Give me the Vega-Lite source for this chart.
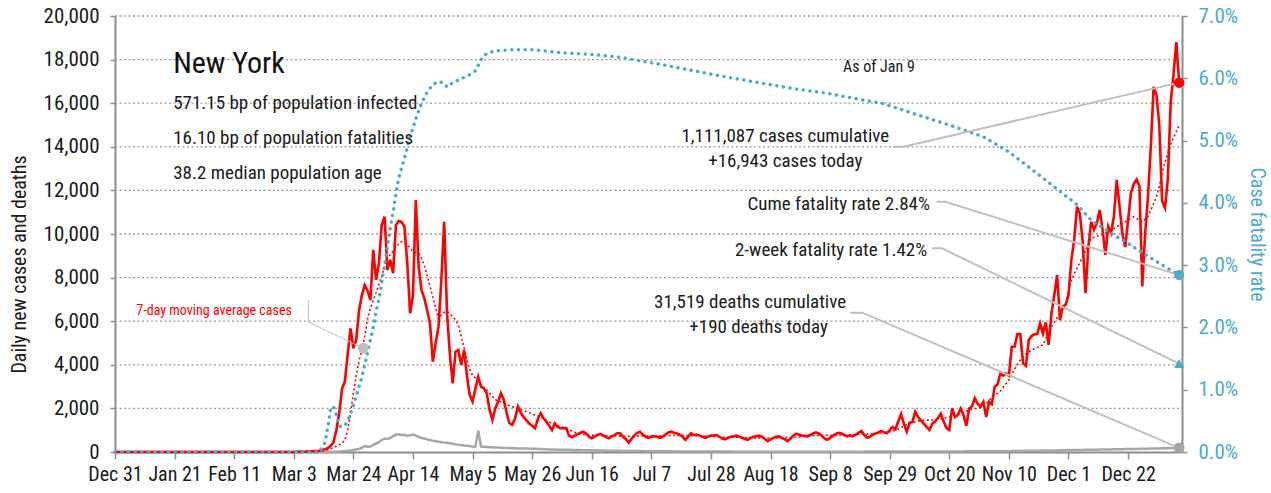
{
"$schema": "https://vega.github.io/schema/vega-lite/v6.json",
"width": 1067, "height": 436,
"autosize": {"type": "none"},
"padding": {"left": 115, "top": 16, "right": 89, "bottom": 41},
"background": "white",
"config": {"font": "Liberation Sans Narrow, Arial Narrow, Roboto Condensed, DejaVu Sans Condensed, Liberation Sans, sans-serif", "view": {"stroke": null},
 "axisBottom": {"labelExpr": "utcFormat(datum.value, '%b %-d')", "grid": false, "labelFontSize": 20, "labelColor": "#1a1a1a", "labelPadding": 5, "labelFlush": false, "labelOverlap": false, "domainColor": "#8c8c8c", "domainWidth": 2, "tickColor": "#8c8c8c", "tickSize": 7, "tickWidth": 1.5},
 "axisLeft": {"labelExpr": "format(datum.value, ',')", "domainColor": "#8c8c8c", "domainWidth": 2, "tickColor": "#8c8c8c", "tickSize": 5, "tickWidth": 1.5, "labelFontSize": 21, "labelColor": "#1a1a1a", "labelPadding": 11, "titleFontSize": 20, "titleFontWeight": "normal", "titleColor": "#1a1a1a", "titlePadding": 14, "titleY": 248},
 "axisRight": {"labelExpr": "format(datum.value, '.1f') + '%'", "grid": false, "domainColor": "#8c8c8c", "domainWidth": 2, "tickColor": "#8c8c8c", "tickSize": 5, "tickWidth": 1.5, "labelFontSize": 21, "labelColor": "#4bacc6", "labelPadding": 11, "titleFontSize": 20, "titleFontWeight": "normal", "titleColor": "#4bacc6", "titlePadding": 9}},
"datasets": {
"gridrows": [
{"level":2000,"date":"2019-12-31"},{"level":2000,"date":"2021-01-10"},{"level":4000,"date":"2019-12-31"},{"level":4000,"date":"2021-01-10"},{"level":6000,"date":"2019-12-31"},{"level":6000,"date":"2021-01-10"},{"level":8000,"date":"2019-12-31"},{"level":8000,"date":"2021-01-10"},{"level":10000,"date":"2019-12-31"},{"level":10000,"date":"2021-01-10"},
{"level":12000,"date":"2019-12-31"},{"level":12000,"date":"2021-01-10"},{"level":14000,"date":"2019-12-31"},{"level":14000,"date":"2021-01-10"},{"level":16000,"date":"2019-12-31"},{"level":16000,"date":"2021-01-10"},{"level":18000,"date":"2019-12-31"},{"level":18000,"date":"2021-01-10"},{"level":20000,"date":"2019-12-31"},{"level":20000,"date":"2021-01-10"}
],
"daily": [
{"date":"2019-12-31","cases":0,"deaths":0},{"date":"2020-01-07","cases":0,"deaths":0},{"date":"2020-01-14","cases":0,"deaths":0},{"date":"2020-01-21","cases":0,"deaths":0},{"date":"2020-01-28","cases":0,"deaths":0},{"date":"2020-02-04","cases":0,"deaths":0},{"date":"2020-02-11","cases":0,"deaths":0},{"date":"2020-02-18","cases":0,"deaths":0},{"date":"2020-02-25","cases":0,"deaths":0},{"date":"2020-02-29","cases":0,"deaths":0},
{"date":"2020-03-01","cases":1,"deaths":0},{"date":"2020-03-02","cases":0,"deaths":0},{"date":"2020-03-03","cases":1,"deaths":0},{"date":"2020-03-04","cases":9,"deaths":0},{"date":"2020-03-05","cases":11,"deaths":0},{"date":"2020-03-06","cases":22,"deaths":0},{"date":"2020-03-07","cases":13,"deaths":0},{"date":"2020-03-08","cases":32,"deaths":0},{"date":"2020-03-09","cases":37,"deaths":0},{"date":"2020-03-10","cases":40,"deaths":0},
{"date":"2020-03-11","cases":40,"deaths":0},{"date":"2020-03-12","cases":60,"deaths":0},{"date":"2020-03-13","cases":100,"deaths":1},{"date":"2020-03-14","cases":130,"deaths":2},{"date":"2020-03-15","cases":180,"deaths":3},{"date":"2020-03-16","cases":280,"deaths":5},{"date":"2020-03-17","cases":450,"deaths":10},{"date":"2020-03-18","cases":1000,"deaths":15},{"date":"2020-03-19","cases":1775,"deaths":20},{"date":"2020-03-20","cases":2900,"deaths":30},
{"date":"2020-03-21","cases":3230,"deaths":40},{"date":"2020-03-22","cases":4500,"deaths":55},{"date":"2020-03-23","cases":5670,"deaths":60},{"date":"2020-03-24","cases":4760,"deaths":95},{"date":"2020-03-25","cases":5140,"deaths":120},{"date":"2020-03-26","cases":6500,"deaths":140},{"date":"2020-03-27","cases":7200,"deaths":200},{"date":"2020-03-28","cases":7660,"deaths":275},{"date":"2020-03-29","cases":7400,"deaths":240},{"date":"2020-03-30","cases":6970,"deaths":250},{"date":"2020-03-31","cases":9270,"deaths":330},
{"date":"2020-04-01","cases":7890,"deaths":390},{"date":"2020-04-02","cases":8660,"deaths":450},{"date":"2020-04-03","cases":10410,"deaths":550},{"date":"2020-04-04","cases":10790,"deaths":620},{"date":"2020-04-05","cases":8350,"deaths":600},{"date":"2020-04-06","cases":8810,"deaths":650},{"date":"2020-04-07","cases":8200,"deaths":730},{"date":"2020-04-08","cases":10410,"deaths":800},{"date":"2020-04-09","cases":10600,"deaths":810},{"date":"2020-04-10","cases":10550,"deaths":780},
{"date":"2020-04-11","cases":10340,"deaths":790},{"date":"2020-04-12","cases":8660,"deaths":750},{"date":"2020-04-13","cases":6360,"deaths":770},{"date":"2020-04-14","cases":7200,"deaths":800},{"date":"2020-04-15","cases":11560,"deaths":750},{"date":"2020-04-16","cases":8500,"deaths":700},{"date":"2020-04-17","cases":7430,"deaths":640},{"date":"2020-04-18","cases":7050,"deaths":620},{"date":"2020-04-19","cases":6500,"deaths":580},{"date":"2020-04-20","cases":5900,"deaths":550},
{"date":"2020-04-21","cases":4140,"deaths":520},{"date":"2020-04-22","cases":5000,"deaths":500},{"date":"2020-04-23","cases":5750,"deaths":470},{"date":"2020-04-24","cases":7890,"deaths":450},{"date":"2020-04-25","cases":10560,"deaths":430},{"date":"2020-04-26","cases":6360,"deaths":420},{"date":"2020-04-27","cases":4500,"deaths":400},{"date":"2020-04-28","cases":3150,"deaths":380},{"date":"2020-04-29","cases":4600,"deaths":350},{"date":"2020-04-30","cases":4680,"deaths":330},
{"date":"2020-05-01","cases":3990,"deaths":320},{"date":"2020-05-02","cases":4680,"deaths":300},{"date":"2020-05-03","cases":3500,"deaths":290},{"date":"2020-05-04","cases":2610,"deaths":270},{"date":"2020-05-05","cases":2310,"deaths":250},{"date":"2020-05-06","cases":2900,"deaths":240},{"date":"2020-05-07","cases":3450,"deaths":980},{"date":"2020-05-08","cases":3000,"deaths":250},{"date":"2020-05-09","cases":2920,"deaths":240},{"date":"2020-05-10","cases":2690,"deaths":230},
{"date":"2020-05-11","cases":1930,"deaths":220},{"date":"2020-05-12","cases":1470,"deaths":215},{"date":"2020-05-13","cases":2000,"deaths":210},{"date":"2020-05-14","cases":2310,"deaths":205},{"date":"2020-05-15","cases":2690,"deaths":200},{"date":"2020-05-16","cases":2400,"deaths":190},{"date":"2020-05-17","cases":1800,"deaths":185},{"date":"2020-05-18","cases":1320,"deaths":180},{"date":"2020-05-19","cases":1240,"deaths":175},{"date":"2020-05-20","cases":1545,"deaths":170},
{"date":"2020-05-21","cases":2080,"deaths":165},{"date":"2020-05-22","cases":1800,"deaths":160},{"date":"2020-05-23","cases":1600,"deaths":160},{"date":"2020-05-24","cases":1450,"deaths":155},{"date":"2020-05-25","cases":1300,"deaths":150},{"date":"2020-05-26","cases":1200,"deaths":150},{"date":"2020-05-27","cases":1090,"deaths":145},{"date":"2020-05-28","cases":1500,"deaths":140},{"date":"2020-05-29","cases":1775,"deaths":135},{"date":"2020-05-30","cases":1550,"deaths":130},{"date":"2020-05-31","cases":1390,"deaths":125},
{"date":"2020-06-01","cases":1200,"deaths":120},{"date":"2020-06-02","cases":1010,"deaths":115},{"date":"2020-06-03","cases":1320,"deaths":110},{"date":"2020-06-04","cases":1150,"deaths":108},{"date":"2020-06-05","cases":1090,"deaths":105},{"date":"2020-06-06","cases":1090,"deaths":102},{"date":"2020-06-07","cases":1100,"deaths":100},{"date":"2020-06-08","cases":750,"deaths":98},{"date":"2020-06-09","cases":680,"deaths":95},{"date":"2020-06-10","cases":750,"deaths":93},
{"date":"2020-06-11","cases":820,"deaths":90},{"date":"2020-06-12","cases":880,"deaths":88},{"date":"2020-06-13","cases":930,"deaths":86},{"date":"2020-06-14","cases":850,"deaths":85},{"date":"2020-06-15","cases":700,"deaths":84},{"date":"2020-06-16","cases":630,"deaths":82},{"date":"2020-06-17","cases":700,"deaths":80},{"date":"2020-06-18","cases":780,"deaths":75},{"date":"2020-06-19","cases":830,"deaths":70},{"date":"2020-06-20","cases":760,"deaths":66},
{"date":"2020-06-21","cases":680,"deaths":62},{"date":"2020-06-22","cases":630,"deaths":60},{"date":"2020-06-23","cases":700,"deaths":58},{"date":"2020-06-24","cases":780,"deaths":56},{"date":"2020-06-25","cases":860,"deaths":54},{"date":"2020-06-26","cases":860,"deaths":52},{"date":"2020-06-27","cases":700,"deaths":50},{"date":"2020-06-28","cases":600,"deaths":48},{"date":"2020-06-29","cases":430,"deaths":47},{"date":"2020-06-30","cases":600,"deaths":46},
{"date":"2020-07-01","cases":750,"deaths":45},{"date":"2020-07-02","cases":880,"deaths":43},{"date":"2020-07-03","cases":930,"deaths":41},{"date":"2020-07-04","cases":800,"deaths":40},{"date":"2020-07-05","cases":700,"deaths":38},{"date":"2020-07-06","cases":650,"deaths":37},{"date":"2020-07-07","cases":700,"deaths":36},{"date":"2020-07-08","cases":720,"deaths":35},{"date":"2020-07-09","cases":700,"deaths":34},{"date":"2020-07-10","cases":650,"deaths":33},
{"date":"2020-07-11","cases":700,"deaths":32},{"date":"2020-07-12","cases":800,"deaths":31},{"date":"2020-07-13","cases":900,"deaths":30},{"date":"2020-07-14","cases":930,"deaths":29},{"date":"2020-07-15","cases":880,"deaths":28},{"date":"2020-07-16","cases":850,"deaths":27},{"date":"2020-07-17","cases":800,"deaths":26},{"date":"2020-07-18","cases":700,"deaths":25},{"date":"2020-07-19","cases":560,"deaths":25},{"date":"2020-07-20","cases":700,"deaths":24},
{"date":"2020-07-21","cases":860,"deaths":24},{"date":"2020-07-22","cases":780,"deaths":23},{"date":"2020-07-23","cases":800,"deaths":23},{"date":"2020-07-24","cases":750,"deaths":22},{"date":"2020-07-25","cases":700,"deaths":22},{"date":"2020-07-26","cases":650,"deaths":21},{"date":"2020-07-27","cases":700,"deaths":21},{"date":"2020-07-28","cases":750,"deaths":20},{"date":"2020-07-29","cases":760,"deaths":20},{"date":"2020-07-30","cases":780,"deaths":20},{"date":"2020-07-31","cases":700,"deaths":19},
{"date":"2020-08-01","cases":620,"deaths":19},{"date":"2020-08-02","cases":580,"deaths":18},{"date":"2020-08-03","cases":650,"deaths":18},{"date":"2020-08-04","cases":700,"deaths":18},{"date":"2020-08-05","cases":720,"deaths":17},{"date":"2020-08-06","cases":750,"deaths":17},{"date":"2020-08-07","cases":700,"deaths":17},{"date":"2020-08-08","cases":650,"deaths":16},{"date":"2020-08-09","cases":600,"deaths":16},{"date":"2020-08-10","cases":560,"deaths":16},
{"date":"2020-08-11","cases":650,"deaths":16},{"date":"2020-08-12","cases":700,"deaths":15},{"date":"2020-08-13","cases":720,"deaths":15},{"date":"2020-08-14","cases":750,"deaths":15},{"date":"2020-08-15","cases":700,"deaths":15},{"date":"2020-08-16","cases":600,"deaths":15},{"date":"2020-08-17","cases":500,"deaths":14},{"date":"2020-08-18","cases":580,"deaths":14},{"date":"2020-08-19","cases":650,"deaths":14},{"date":"2020-08-20","cases":700,"deaths":14},
{"date":"2020-08-21","cases":720,"deaths":14},{"date":"2020-08-22","cases":650,"deaths":14},{"date":"2020-08-23","cases":580,"deaths":14},{"date":"2020-08-24","cases":500,"deaths":14},{"date":"2020-08-25","cases":600,"deaths":14},{"date":"2020-08-26","cases":750,"deaths":14},{"date":"2020-08-27","cases":830,"deaths":14},{"date":"2020-08-28","cases":800,"deaths":14},{"date":"2020-08-29","cases":760,"deaths":14},{"date":"2020-08-30","cases":740,"deaths":14},{"date":"2020-08-31","cases":720,"deaths":14},
{"date":"2020-09-01","cases":780,"deaths":14},{"date":"2020-09-02","cases":850,"deaths":14},{"date":"2020-09-03","cases":900,"deaths":14},{"date":"2020-09-04","cases":850,"deaths":15},{"date":"2020-09-05","cases":750,"deaths":15},{"date":"2020-09-06","cases":620,"deaths":15},{"date":"2020-09-07","cases":560,"deaths":15},{"date":"2020-09-08","cases":650,"deaths":15},{"date":"2020-09-09","cases":750,"deaths":15},{"date":"2020-09-10","cases":830,"deaths":15},
{"date":"2020-09-11","cases":880,"deaths":16},{"date":"2020-09-12","cases":850,"deaths":16},{"date":"2020-09-13","cases":780,"deaths":16},{"date":"2020-09-14","cases":720,"deaths":16},{"date":"2020-09-15","cases":760,"deaths":16},{"date":"2020-09-16","cases":720,"deaths":17},{"date":"2020-09-17","cases":800,"deaths":17},{"date":"2020-09-18","cases":880,"deaths":17},{"date":"2020-09-19","cases":960,"deaths":17},{"date":"2020-09-20","cases":800,"deaths":18},
{"date":"2020-09-21","cases":650,"deaths":18},{"date":"2020-09-22","cases":700,"deaths":18},{"date":"2020-09-23","cases":780,"deaths":18},{"date":"2020-09-24","cases":850,"deaths":19},{"date":"2020-09-25","cases":900,"deaths":19},{"date":"2020-09-26","cases":970,"deaths":19},{"date":"2020-09-27","cases":900,"deaths":19},{"date":"2020-09-28","cases":860,"deaths":20},{"date":"2020-09-29","cases":1000,"deaths":20},{"date":"2020-09-30","cases":1150,"deaths":20},
{"date":"2020-10-01","cases":1050,"deaths":20},{"date":"2020-10-02","cases":1400,"deaths":21},{"date":"2020-10-03","cases":1740,"deaths":21},{"date":"2020-10-04","cases":1300,"deaths":21},{"date":"2020-10-05","cases":930,"deaths":22},{"date":"2020-10-06","cases":1340,"deaths":22},{"date":"2020-10-07","cases":1380,"deaths":22},{"date":"2020-10-08","cases":1850,"deaths":23},{"date":"2020-10-09","cases":1600,"deaths":23},{"date":"2020-10-10","cases":1450,"deaths":23},
{"date":"2020-10-11","cases":1300,"deaths":24},{"date":"2020-10-12","cases":1150,"deaths":24},{"date":"2020-10-13","cases":1010,"deaths":24},{"date":"2020-10-14","cases":1300,"deaths":25},{"date":"2020-10-15","cases":1400,"deaths":25},{"date":"2020-10-16","cases":1550,"deaths":25},{"date":"2020-10-17","cases":1760,"deaths":26},{"date":"2020-10-18","cases":1400,"deaths":26},{"date":"2020-10-19","cases":1100,"deaths":26},{"date":"2020-10-20","cases":1010,"deaths":27},
{"date":"2020-10-21","cases":2000,"deaths":27},{"date":"2020-10-22","cases":1600,"deaths":27},{"date":"2020-10-23","cases":1700,"deaths":28},{"date":"2020-10-24","cases":2000,"deaths":28},{"date":"2020-10-25","cases":1700,"deaths":28},{"date":"2020-10-26","cases":1200,"deaths":29},{"date":"2020-10-27","cases":2000,"deaths":29},{"date":"2020-10-28","cases":2100,"deaths":29},{"date":"2020-10-29","cases":2460,"deaths":30},{"date":"2020-10-30","cases":2200,"deaths":30},{"date":"2020-10-31","cases":2080,"deaths":30},
{"date":"2020-11-01","cases":2300,"deaths":31},{"date":"2020-11-02","cases":1600,"deaths":32},{"date":"2020-11-03","cases":2300,"deaths":33},{"date":"2020-11-04","cases":2200,"deaths":34},{"date":"2020-11-05","cases":3000,"deaths":35},{"date":"2020-11-06","cases":3100,"deaths":36},{"date":"2020-11-07","cases":3600,"deaths":37},{"date":"2020-11-08","cases":3500,"deaths":38},{"date":"2020-11-09","cases":3610,"deaths":39},{"date":"2020-11-10","cases":3500,"deaths":40},
{"date":"2020-11-11","cases":4830,"deaths":42},{"date":"2020-11-12","cases":4830,"deaths":44},{"date":"2020-11-13","cases":5410,"deaths":46},{"date":"2020-11-14","cases":5410,"deaths":48},{"date":"2020-11-15","cases":4070,"deaths":50},{"date":"2020-11-16","cases":3950,"deaths":52},{"date":"2020-11-17","cases":5140,"deaths":54},{"date":"2020-11-18","cases":5320,"deaths":56},{"date":"2020-11-19","cases":5400,"deaths":58},{"date":"2020-11-20","cases":5410,"deaths":60},
{"date":"2020-11-21","cases":5900,"deaths":62},{"date":"2020-11-22","cases":5440,"deaths":64},{"date":"2020-11-23","cases":5950,"deaths":66},{"date":"2020-11-24","cases":4910,"deaths":68},{"date":"2020-11-25","cases":6360,"deaths":70},{"date":"2020-11-26","cases":7200,"deaths":72},{"date":"2020-11-27","cases":8120,"deaths":74},{"date":"2020-11-28","cases":6050,"deaths":76},{"date":"2020-11-29","cases":6670,"deaths":78},{"date":"2020-11-30","cases":6760,"deaths":80},
{"date":"2020-12-01","cases":7200,"deaths":82},{"date":"2020-12-02","cases":8800,"deaths":85},{"date":"2020-12-03","cases":9720,"deaths":88},{"date":"2020-12-04","cases":11250,"deaths":90},{"date":"2020-12-05","cases":10940,"deaths":92},{"date":"2020-12-06","cases":9650,"deaths":95},{"date":"2020-12-07","cases":7280,"deaths":98},{"date":"2020-12-08","cases":9420,"deaths":100},{"date":"2020-12-09","cases":10560,"deaths":102},{"date":"2020-12-10","cases":10200,"deaths":105},
{"date":"2020-12-11","cases":10500,"deaths":108},{"date":"2020-12-12","cases":11100,"deaths":110},{"date":"2020-12-13","cases":10200,"deaths":112},{"date":"2020-12-14","cases":9040,"deaths":115},{"date":"2020-12-15","cases":10350,"deaths":118},{"date":"2020-12-16","cases":10050,"deaths":120},{"date":"2020-12-17","cases":10800,"deaths":122},{"date":"2020-12-18","cases":12480,"deaths":125},{"date":"2020-12-19","cases":11250,"deaths":128},{"date":"2020-12-20","cases":10000,"deaths":130},
{"date":"2020-12-21","cases":9400,"deaths":132},{"date":"2020-12-22","cases":10640,"deaths":135},{"date":"2020-12-23","cases":11870,"deaths":138},{"date":"2020-12-24","cases":12300,"deaths":140},{"date":"2020-12-25","cases":12500,"deaths":142},{"date":"2020-12-26","cases":12200,"deaths":145},{"date":"2020-12-27","cases":7600,"deaths":148},{"date":"2020-12-28","cases":10000,"deaths":150},{"date":"2020-12-29","cases":11700,"deaths":152},{"date":"2020-12-30","cases":14000,"deaths":155},{"date":"2020-12-31","cases":16750,"deaths":158},
{"date":"2021-01-01","cases":16400,"deaths":160},{"date":"2021-01-02","cases":15000,"deaths":165},{"date":"2021-01-03","cases":11500,"deaths":168},{"date":"2021-01-04","cases":11200,"deaths":172},{"date":"2021-01-05","cases":12500,"deaths":175},{"date":"2021-01-06","cases":16000,"deaths":178},{"date":"2021-01-07","cases":17300,"deaths":182},{"date":"2021-01-08","cases":18800,"deaths":186},{"date":"2021-01-09","cases":16943,"deaths":190}
],
"ma": [
{"date":"2019-12-31","ma":0},{"date":"2020-03-01","ma":0},{"date":"2020-03-10","ma":15},{"date":"2020-03-14","ma":60},{"date":"2020-03-17","ma":200},{"date":"2020-03-19","ma":330},{"date":"2020-03-20","ma":400},{"date":"2020-03-21","ma":550},{"date":"2020-03-22","ma":1000},{"date":"2020-03-23","ma":1800},{"date":"2020-03-24","ma":2700},{"date":"2020-03-25","ma":3500},{"date":"2020-03-26","ma":4200},{"date":"2020-03-27","ma":4650},{"date":"2020-03-28","ma":5300},{"date":"2020-03-29","ma":6100},{"date":"2020-03-30","ma":6600},{"date":"2020-03-31","ma":6950},
{"date":"2020-04-01","ma":7300},{"date":"2020-04-02","ma":7700},{"date":"2020-04-03","ma":8050},{"date":"2020-04-04","ma":8550},{"date":"2020-04-05","ma":8900},{"date":"2020-04-06","ma":9050},{"date":"2020-04-07","ma":9200},{"date":"2020-04-08","ma":9400},{"date":"2020-04-09","ma":9550},{"date":"2020-04-10","ma":9650},{"date":"2020-04-11","ma":9600},{"date":"2020-04-12","ma":9500},{"date":"2020-04-13","ma":9350},{"date":"2020-04-14","ma":9200},{"date":"2020-04-15","ma":9150},{"date":"2020-04-16","ma":9100},{"date":"2020-04-17","ma":8900},{"date":"2020-04-18","ma":8550},{"date":"2020-04-19","ma":8100},{"date":"2020-04-20","ma":7600},{"date":"2020-04-21","ma":7100},{"date":"2020-04-22","ma":6600},{"date":"2020-04-23","ma":6100},{"date":"2020-04-24","ma":6300},{"date":"2020-04-25","ma":6400},{"date":"2020-04-26","ma":6450},{"date":"2020-04-27","ma":6350},{"date":"2020-04-28","ma":6200},{"date":"2020-04-29","ma":6050},{"date":"2020-04-30","ma":5800},
{"date":"2020-05-01","ma":5300},{"date":"2020-05-02","ma":4800},{"date":"2020-05-03","ma":4200},{"date":"2020-05-04","ma":3800},{"date":"2020-05-05","ma":3500},{"date":"2020-05-06","ma":3400},{"date":"2020-05-07","ma":3300},{"date":"2020-05-08","ma":3100},{"date":"2020-05-09","ma":2950},{"date":"2020-05-10","ma":2850},{"date":"2020-05-11","ma":2700},{"date":"2020-05-12","ma":2550},{"date":"2020-05-13","ma":2400},{"date":"2020-05-14","ma":2350},{"date":"2020-05-15","ma":2300},{"date":"2020-05-17","ma":2180},{"date":"2020-05-19","ma":2080},{"date":"2020-05-21","ma":1980},{"date":"2020-05-24","ma":1850},{"date":"2020-05-27","ma":1700},{"date":"2020-05-29","ma":1600},{"date":"2020-05-31","ma":1450},
{"date":"2020-06-02","ma":1320},{"date":"2020-06-04","ma":1200},{"date":"2020-06-07","ma":1090},{"date":"2020-06-10","ma":900},{"date":"2020-06-13","ma":800},{"date":"2020-06-18","ma":760},{"date":"2020-06-23","ma":740},{"date":"2020-06-28","ma":720},{"date":"2020-07-03","ma":740},{"date":"2020-07-08","ma":730},{"date":"2020-07-13","ma":760},{"date":"2020-07-18","ma":760},{"date":"2020-07-23","ma":740},{"date":"2020-07-28","ma":720},{"date":"2020-08-02","ma":680},{"date":"2020-08-07","ma":680},{"date":"2020-08-12","ma":650},{"date":"2020-08-17","ma":640},{"date":"2020-08-22","ma":650},{"date":"2020-08-27","ma":680},
{"date":"2020-09-01","ma":750},{"date":"2020-09-06","ma":770},{"date":"2020-09-11","ma":760},{"date":"2020-09-16","ma":790},{"date":"2020-09-21","ma":820},{"date":"2020-09-26","ma":880},{"date":"2020-09-29","ma":930},{"date":"2020-10-02","ma":1050},{"date":"2020-10-06","ma":1330},{"date":"2020-10-10","ma":1450},{"date":"2020-10-14","ma":1470},{"date":"2020-10-18","ma":1550},{"date":"2020-10-21","ma":1640},{"date":"2020-10-24","ma":1760},{"date":"2020-10-27","ma":1930},{"date":"2020-11-01","ma":2080},{"date":"2020-11-04","ma":2500},{"date":"2020-11-07","ma":2800},{"date":"2020-11-10","ma":3300},{"date":"2020-11-12","ma":3800},{"date":"2020-11-14","ma":4220},{"date":"2020-11-16","ma":4500},{"date":"2020-11-18","ma":4680},{"date":"2020-11-22","ma":4910},{"date":"2020-11-25","ma":5750},{"date":"2020-11-28","ma":6360},{"date":"2020-11-30","ma":6820},
{"date":"2020-12-02","ma":7890},{"date":"2020-12-06","ma":8960},{"date":"2020-12-09","ma":9800},{"date":"2020-12-14","ma":10030},{"date":"2020-12-19","ma":10410},{"date":"2020-12-24","ma":10790},{"date":"2020-12-27","ma":10560},{"date":"2020-12-29","ma":10800},{"date":"2020-12-31","ma":11400},{"date":"2021-01-01","ma":11700},{"date":"2021-01-02","ma":12200},{"date":"2021-01-03","ma":12800},{"date":"2021-01-04","ma":13300},{"date":"2021-01-05","ma":13700},{"date":"2021-01-06","ma":14100},{"date":"2021-01-07","ma":14400},{"date":"2021-01-08","ma":14700},{"date":"2021-01-09","ma":15000}
],
"cfr": [
{"date":"2019-12-31","cfr":0},{"date":"2020-03-12","cfr":0},{"date":"2020-03-14","cfr":0.15},{"date":"2020-03-15","cfr":0.4},{"date":"2020-03-16","cfr":0.7},{"date":"2020-03-17","cfr":0.73},{"date":"2020-03-18","cfr":0.6},{"date":"2020-03-19","cfr":0.42},{"date":"2020-03-20","cfr":0.4},{"date":"2020-03-21","cfr":0.43},{"date":"2020-03-22","cfr":0.5},{"date":"2020-03-23","cfr":0.62},{"date":"2020-03-24","cfr":0.75},{"date":"2020-03-25","cfr":0.9},{"date":"2020-03-26","cfr":1.05},{"date":"2020-03-27","cfr":1.2},{"date":"2020-03-28","cfr":1.4},{"date":"2020-03-29","cfr":1.6},{"date":"2020-03-30","cfr":1.8},{"date":"2020-03-31","cfr":2.0},
{"date":"2020-04-01","cfr":2.25},{"date":"2020-04-02","cfr":2.45},{"date":"2020-04-03","cfr":2.72},{"date":"2020-04-04","cfr":3.0},{"date":"2020-04-05","cfr":3.3},{"date":"2020-04-06","cfr":3.6},{"date":"2020-04-07","cfr":3.85},{"date":"2020-04-08","cfr":4.15},{"date":"2020-04-09","cfr":4.4},{"date":"2020-04-11","cfr":4.72},{"date":"2020-04-13","cfr":5.06},{"date":"2020-04-15","cfr":5.35},{"date":"2020-04-17","cfr":5.6},{"date":"2020-04-19","cfr":5.78},{"date":"2020-04-21","cfr":5.9},{"date":"2020-04-23","cfr":5.95},{"date":"2020-04-25","cfr":5.92},{"date":"2020-04-26","cfr":5.86},{"date":"2020-04-28","cfr":5.93},
{"date":"2020-05-01","cfr":5.99},{"date":"2020-05-04","cfr":6.06},{"date":"2020-05-06","cfr":6.12},{"date":"2020-05-08","cfr":6.3},{"date":"2020-05-10","cfr":6.4},{"date":"2020-05-13","cfr":6.44},{"date":"2020-05-19","cfr":6.46},{"date":"2020-05-26","cfr":6.46},{"date":"2020-06-05","cfr":6.41},{"date":"2020-06-14","cfr":6.39},{"date":"2020-06-24","cfr":6.35},{"date":"2020-07-03","cfr":6.28},{"date":"2020-07-13","cfr":6.2},{"date":"2020-07-22","cfr":6.12},{"date":"2020-07-31","cfr":6.04},{"date":"2020-08-10","cfr":5.96},{"date":"2020-08-19","cfr":5.89},{"date":"2020-08-28","cfr":5.82},{"date":"2020-09-07","cfr":5.76},{"date":"2020-09-15","cfr":5.69},{"date":"2020-09-27","cfr":5.59},{"date":"2020-10-09","cfr":5.41},{"date":"2020-10-20","cfr":5.25},{"date":"2020-11-01","cfr":5.06},{"date":"2020-11-10","cfr":4.82},{"date":"2020-11-20","cfr":4.47},{"date":"2020-11-29","cfr":4.15},{"date":"2020-12-04","cfr":3.97},{"date":"2020-12-09","cfr":3.72},{"date":"2020-12-16","cfr":3.51},{"date":"2020-12-22","cfr":3.35},{"date":"2020-12-27","cfr":3.2},{"date":"2021-01-02","cfr":3.03},{"date":"2021-01-09","cfr":2.84}
],
"notes": [
{"label":"New York","date":"2020-01-20T12:00:00Z","value":17370},
{"label":"571.15 bp of population infected","date":"2020-01-20T12:00:00Z","value":15756},
{"label":"16.10 bp of population fatalities","date":"2020-01-20T12:00:00Z","value":14151},
{"label":"38.2 median population age","date":"2020-01-20T12:00:00Z","value":12523},
{"label":"As of Jan 9","date":"2020-09-12T14:00:00Z","value":17444},
{"label":"1,111,087 cases cumulative","date":"2020-08-23T05:00:00Z","value":14233},
{"label":"+16,943 cases today","date":"2020-08-23T05:00:00Z","value":13089},
{"label":"Cume fatality rate 2.84%","date":"2020-10-13T05:00:00Z","value":11101},
{"label":"2-week fatality rate 1.42%","date":"2020-10-12T05:00:00Z","value":8991},
{"label":"31,519 deaths cumulative","date":"2020-08-10T19:00:00Z","value":6605},
{"label":"+190 deaths today","date":"2020-08-13T19:00:00Z","value":5458},
{"label":"7-day moving average cases","date":"2020-02-03T22:00:00Z","value":6284}
],
"leaders": [
{"leader":"cases","date":"2020-09-30T07:00:00Z","value":14004},{"leader":"cases","date":"2020-10-03T22:00:00Z","value":14004},{"leader":"cases","date":"2021-01-09T00:00:00Z","value":16943},
{"leader":"cume","date":"2020-10-15T14:00:00Z","value":11480},{"leader":"cume","date":"2020-10-18T14:00:00Z","value":11480},{"leader":"cume","date":"2021-01-09T00:00:00Z","value":8114},
{"leader":"twoweek","date":"2020-10-13T22:00:00Z","value":9344},{"leader":"twoweek","date":"2020-10-17T10:00:00Z","value":9344},{"leader":"twoweek","date":"2021-01-09T00:00:00Z","value":4057},
{"leader":"deaths","date":"2020-09-15T02:00:00Z","value":6390},{"leader":"deaths","date":"2020-09-19T07:00:00Z","value":6390},{"leader":"deaths","date":"2021-01-09T00:00:00Z","value":190}
],
"maleader": [
{"date":"2020-03-08T03:00:00Z","value":6972},{"date":"2020-03-08T03:00:00Z","value":5963},{"date":"2020-03-27T12:00:00Z","value":4760}
],
"endpoints": [
{"series":"cases","date":"2021-01-09","value":16943},
{"series":"deaths","date":"2021-01-09","value":190},
{"series":"ma-note","date":"2020-03-27T12:00:00Z","value":4760}
],
"cfrpoints": [
{"series":"cume","date":"2021-01-09","cfr":2.84},
{"series":"twoweek","date":"2021-01-09","cfr":1.42}
]
},
"layer": [
 {"data": {"name": "daily"}, "mark": {"type": "line", "color": "#a6a6a6", "strokeWidth": 2.5},
  "encoding": {
   "x": {"field": "date", "type": "temporal", "title": null,
    "scale": {"type": "utc", "domain": ["2019-12-31T00:00:00Z", "2021-01-10T00:00:00Z"]},
    "axis": {"values": [{"year":2019,"month":12,"date":31,"utc":true},{"year":2020,"month":1,"date":21,"utc":true},{"year":2020,"month":2,"date":11,"utc":true},{"year":2020,"month":3,"date":3,"utc":true},{"year":2020,"month":3,"date":24,"utc":true},{"year":2020,"month":4,"date":14,"utc":true},{"year":2020,"month":5,"date":5,"utc":true},{"year":2020,"month":5,"date":26,"utc":true},{"year":2020,"month":6,"date":16,"utc":true},{"year":2020,"month":7,"date":7,"utc":true},{"year":2020,"month":7,"date":28,"utc":true},{"year":2020,"month":8,"date":18,"utc":true},{"year":2020,"month":9,"date":8,"utc":true},{"year":2020,"month":9,"date":29,"utc":true},{"year":2020,"month":10,"date":20,"utc":true},{"year":2020,"month":11,"date":10,"utc":true},{"year":2020,"month":12,"date":1,"utc":true},{"year":2020,"month":12,"date":22,"utc":true}],
     "labelExpr": "utcFormat(datum.value, '%b %-d')", "grid": false}},
   "y": {"field": "deaths", "type": "quantitative", "scale": {"domain": [0, 20000], "nice": false},
    "axis": {"title": "Daily new cases and deaths", "values": [0,2000,4000,6000,8000,10000,12000,14000,16000,18000,20000], "labelExpr": "format(datum.value, ',')", "grid": false}}}},
 {"data": {"name": "gridrows"}, "mark": {"type": "line", "color": "#9a9a9a", "strokeWidth": 1.3, "strokeDash": [2, 2.5]},
  "encoding": {"x": {"field": "date", "type": "temporal", "title": null},
   "y": {"field": "level", "type": "quantitative", "scale": {"domain": [0, 20000], "nice": false}, "axis": null},
   "detail": {"field": "level", "type": "nominal"}}},
 {"data": {"name": "daily"}, "mark": {"type": "line", "color": "#ff0000", "strokeWidth": 2.6},
  "encoding": {"x": {"field": "date", "type": "temporal", "title": null},
   "y": {"field": "cases", "type": "quantitative", "scale": {"domain": [0, 20000], "nice": false}, "axis": null}}},
 {"data": {"name": "ma"}, "mark": {"type": "line", "color": "#ff0000", "strokeWidth": 1.6, "strokeDash": [2, 2.5]},
  "encoding": {"x": {"field": "date", "type": "temporal", "title": null},
   "y": {"field": "ma", "type": "quantitative", "scale": {"domain": [0, 20000], "nice": false}, "axis": null}}},
 {"data": {"name": "cfr"}, "mark": {"type": "line", "color": "#4bacc6", "strokeWidth": 3.5, "strokeDash": [0.1, 6.6], "strokeCap": "round"},
  "encoding": {"x": {"field": "date", "type": "temporal", "title": null},
   "y": {"field": "cfr", "type": "quantitative", "scale": {"domain": [0, 7], "nice": false},
    "axis": {"orient": "right", "title": "Case fatality rate", "values": [0,1,2,3,4,5,6,7], "labelExpr": "format(datum.value, '.1f') + '%'", "grid": false}}}},
 {"data": {"name": "leaders"}, "mark": {"type": "line", "color": "#bfbfbf", "strokeWidth": 2},
  "encoding": {"x": {"field": "date", "type": "temporal", "title": null},
   "y": {"field": "value", "type": "quantitative", "scale": {"domain": [0, 20000], "nice": false}, "axis": null},
   "detail": {"field": "leader"}}},
 {"data": {"name": "maleader"}, "mark": {"type": "line", "color": "#bfbfbf", "strokeWidth": 1},
  "encoding": {"x": {"field": "date", "type": "temporal", "title": null},
   "y": {"field": "value", "type": "quantitative", "scale": {"domain": [0, 20000], "nice": false}, "axis": null}, "order": {"value": 0}}},
 {"data": {"name": "cfrpoints"}, "mark": {"type": "point", "filled": true, "opacity": 1, "color": "#4bacc6"},
  "encoding": {"x": {"field": "date", "type": "temporal", "title": null},
   "y": {"field": "cfr", "type": "quantitative", "scale": {"domain": [0, 7], "nice": false}, "axis": null},
   "shape": {"field": "series", "type": "nominal", "scale": {"domain": ["cume", "twoweek"], "range": ["circle", "triangle-up"]}, "legend": null},
   "size": {"field": "series", "type": "nominal", "scale": {"domain": ["cume", "twoweek"], "range": [100, 120]}, "legend": null}}},
 {"data": {"name": "endpoints"}, "mark": {"type": "point", "shape": "circle", "filled": true, "opacity": 1},
  "encoding": {"x": {"field": "date", "type": "temporal", "title": null},
   "y": {"field": "value", "type": "quantitative", "scale": {"domain": [0, 20000], "nice": false}, "axis": null},
   "color": {"field": "series", "type": "nominal", "scale": {"domain": ["cases", "deaths", "ma-note"], "range": ["#ff0000", "#a6a6a6", "#bfbfbf"]}, "legend": null},
   "size": {"field": "series", "type": "nominal", "scale": {"domain": ["cases", "deaths", "ma-note"], "range": [110, 90, 60]}, "legend": null}}},
 {"data": {"name": "notes"}, "transform": [{"filter": "datum.label === 'New York'"}],
  "mark": {"type": "text", "align": "left", "baseline": "alphabetic", "fontSize": 30, "color": "#111111"},
  "encoding": {"x": {"field": "date", "type": "temporal", "title": null},
   "y": {"field": "value", "type": "quantitative", "scale": {"domain": [0, 20000], "nice": false}, "axis": null}, "text": {"field": "label"}}},
 {"data": {"name": "notes"}, "transform": [{"filter": "indexof(['571.15 bp of population infected','16.10 bp of population fatalities','38.2 median population age'], datum.label) >= 0"}],
  "mark": {"type": "text", "align": "left", "baseline": "alphabetic", "fontSize": 19, "color": "#1a1a1a"},
  "encoding": {"x": {"field": "date", "type": "temporal", "title": null},
   "y": {"field": "value", "type": "quantitative", "scale": {"domain": [0, 20000], "nice": false}, "axis": null}, "text": {"field": "label"}}},
 {"data": {"name": "notes"}, "transform": [{"filter": "datum.label === 'As of Jan 9'"}],
  "mark": {"type": "text", "align": "left", "baseline": "alphabetic", "fontSize": 16, "color": "#1a1a1a"},
  "encoding": {"x": {"field": "date", "type": "temporal", "title": null},
   "y": {"field": "value", "type": "quantitative", "scale": {"domain": [0, 20000], "nice": false}, "axis": null}, "text": {"field": "label"}}},
 {"data": {"name": "notes"}, "transform": [{"filter": "indexof(['1,111,087 cases cumulative','+16,943 cases today','31,519 deaths cumulative','+190 deaths today'], datum.label) >= 0"}],
  "mark": {"type": "text", "align": "center", "baseline": "alphabetic", "fontSize": 19, "color": "#1a1a1a"},
  "encoding": {"x": {"field": "date", "type": "temporal", "title": null},
   "y": {"field": "value", "type": "quantitative", "scale": {"domain": [0, 20000], "nice": false}, "axis": null}, "text": {"field": "label"}}},
 {"data": {"name": "notes"}, "transform": [{"filter": "indexof(['Cume fatality rate 2.84%','2-week fatality rate 1.42%'], datum.label) >= 0"}],
  "mark": {"type": "text", "align": "right", "baseline": "alphabetic", "fontSize": 19, "color": "#1a1a1a"},
  "encoding": {"x": {"field": "date", "type": "temporal", "title": null},
   "y": {"field": "value", "type": "quantitative", "scale": {"domain": [0, 20000], "nice": false}, "axis": null}, "text": {"field": "label"}}},
 {"data": {"name": "notes"}, "transform": [{"filter": "datum.label === '7-day moving average cases'"}],
  "mark": {"type": "text", "align": "center", "baseline": "alphabetic", "fontSize": 14, "color": "#ff0000"},
  "encoding": {"x": {"field": "date", "type": "temporal", "title": null},
   "y": {"field": "value", "type": "quantitative", "scale": {"domain": [0, 20000], "nice": false}, "axis": null}, "text": {"field": "label"}}}
],
"resolve": {"scale": {"y": "independent"}}
}
